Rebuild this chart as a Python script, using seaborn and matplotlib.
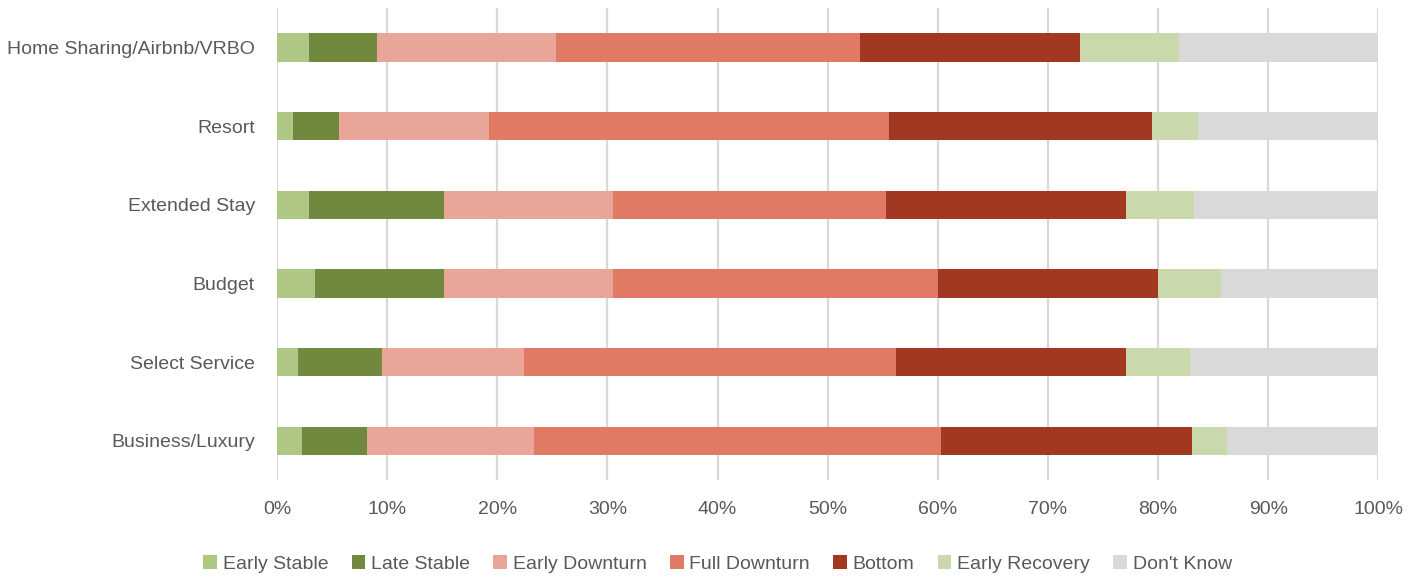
import matplotlib
matplotlib.use("Agg")
import matplotlib.pyplot as plt
from matplotlib.patches import Patch
from matplotlib.ticker import PercentFormatter
import numpy as np
import pandas as pd
import seaborn as sns

# data (percent of respondents per segment)
categories = ["Home Sharing/Airbnb/VRBO", "Resort", "Extended Stay", "Budget",
              "Select Service", "Business/Luxury"]
stages = ["Early Stable", "Late Stable", "Early Downturn", "Full Downturn",
          "Bottom", "Early Recovery", "Don't Know"]
early_stable = [2.9, 1.4, 2.9, 3.4, 1.9, 2.3]
late_stable = [6.2, 4.2, 12.3, 11.8, 7.6, 5.9]
early_downturn = [16.2, 13.6, 15.3, 15.3, 12.9, 15.1]
full_downturn = [27.6, 36.4, 24.8, 29.5, 33.8, 37.0]
bottom = [20.0, 23.8, 21.8, 20.0, 20.9, 22.8]
early_recovery = [9.0, 4.2, 6.2, 5.7, 5.8, 3.2]
dont_know = [18.1, 16.4, 16.7, 14.3, 17.1, 13.7]

colors = ["#AFC784", "#70893F", "#E9A698", "#E07A64", "#A33822", "#C9D9AC", "#D9D9D9"]

sns.set_style("white")
plt.rcParams["font.family"] = ["Liberation Sans", "DejaVu Sans"]
text_color = "#595959"

df = pd.DataFrame({"category": categories})
series = [early_stable, late_stable, early_downturn, full_downturn,
          bottom, early_recovery, dont_know]
cum = np.cumsum(np.array(series), axis=0)
for name, vals in zip(stages, cum):
    df[name] = vals

fig = plt.figure(figsize=(14.21, 5.79), dpi=100)
ax = fig.add_axes([0.195, 0.171, 0.775, 0.815])

# stacked bars: draw cumulative totals from the largest down
for name, col in reversed(list(zip(stages, colors))):
    sns.barplot(data=df, x=name, y="category", color=col, width=0.36,
                orient="h", linewidth=0, saturation=1, ax=ax)

ax.set_xlim(0, 100)
ax.set_ylim(5.5, -0.5)
ax.set_xticks(np.arange(0, 101, 10))
ax.xaxis.set_major_formatter(PercentFormatter(decimals=0))
ax.set_xlabel("")
ax.set_ylabel("")
ax.grid(axis="x", color="#D9D9D9", linewidth=1.6)
ax.grid(axis="y", visible=False)
ax.set_axisbelow(True)
for s in ax.spines.values():
    s.set_visible(False)
ax.tick_params(axis="both", length=0, labelsize=14, labelcolor=text_color)
ax.tick_params(axis="x", pad=15)
ax.tick_params(axis="y", pad=16)

handles = [Patch(facecolor=c, edgecolor="none", label=s) for s, c in zip(stages, colors)]
fig.legend(handles=handles, loc="lower center", bbox_to_anchor=(0.505, -0.02),
           ncol=7, frameon=False, fontsize=14, labelcolor=text_color,
           handlelength=0.7, handleheight=0.7, handletextpad=0.3, columnspacing=1.2)

fig.savefig("out.png", dpi=100)
